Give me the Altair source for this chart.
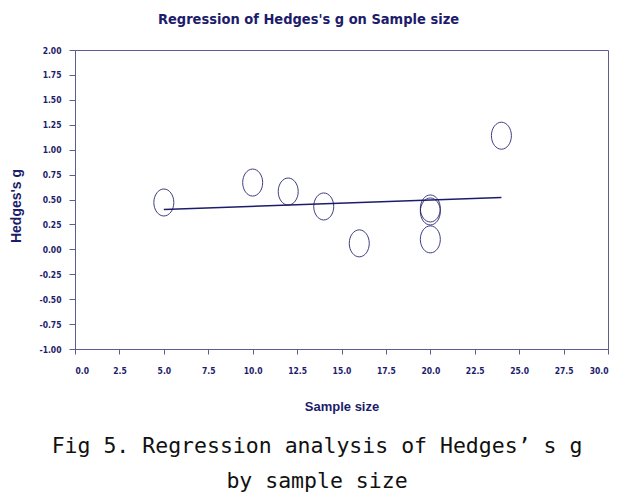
import altair as alt
import pandas as pd

# Data
sample_size = [5, 10, 12, 14, 16, 20, 20, 20, 24]
hedges_g = [0.47, 0.67, 0.58, 0.43, 0.06, 0.41, 0.38, 0.10, 1.14]
fit_x = [5, 24]
fit_y = [0.40, 0.52]
caption_lines = ["Fig 5. Regression analysis of Hedges\u2019 s g", "by sample size"]
caption_rows = [0, 1]

NAVY = "#1c1c6b"
FRAME = "#5c5c8e"
NARROW = "Liberation Sans Narrow, DejaVu Sans Condensed, Roboto, sans-serif"
ELLIPSE = "M -0.74 0 A 0.74 1 0 1 1 0.74 0 A 0.74 1 0 1 1 -0.74 0 Z"

pts = pd.DataFrame({"n": sample_size, "g": hedges_g})
fit = pd.DataFrame({"n": fit_x, "g": fit_y})
cap = pd.DataFrame({"text": caption_lines, "row": caption_rows})

W, H = 533, 299

xscale = alt.Scale(domain=[0, 30], nice=False, zero=False)
yscale = alt.Scale(domain=[-1, 2], nice=False, zero=False)

xaxis = alt.Axis(values=[i * 2.5 for i in range(13)], format=".1f", grid=False,
                 tickSize=5, labelPadding=12, titlePadding=26, title="Sample size")
yaxis = alt.Axis(values=[-1 + i * 0.25 for i in range(13)], grid=False,
                 labelExpr="replace(format(datum.value, '.2f'), '\u2212', '-')",
                 tickSize=6, labelPadding=8, title="Hedges's g",
                 titleX=-59, titleY=H / 2 + 6, titleAlign="center",
                 titleBaseline="middle", titleAngle=270, titleFontSize=14)

points = alt.Chart(pts).mark_point(
    shape=ELLIPSE, size=729, filled=False, stroke=NAVY, strokeWidth=1, opacity=0.85
).encode(
    x=alt.X("n:Q", scale=xscale, axis=xaxis),
    y=alt.Y("g:Q", scale=yscale, axis=yaxis),
)

line = alt.Chart(fit).mark_line(color=NAVY, strokeWidth=1.6).encode(
    x=alt.X("n:Q", scale=xscale, axis=xaxis),
    y=alt.Y("g:Q", scale=yscale, axis=yaxis),
)

cap_layers = []
for r, ypix in zip(caption_rows, [397, 432]):
    cap_layers.append(
        alt.Chart(cap).transform_filter(alt.datum.row == r).mark_text(
            font="DejaVu Sans Mono", fontSize=21.5, color="#111111", align="center",
            baseline="middle", clip=False
        ).encode(
            x=alt.value(242),
            y=alt.value(ypix),
            text="text:N",
        )
    )

chart = alt.layer(line, points, *cap_layers).properties(
    width=W, height=H,
    padding={"left": 67, "top": 42, "right": 8, "bottom": 143},
    autosize=alt.AutoSizeParams(type="none"),
    title=alt.TitleParams(
        "Regression of Hedges's g on Sample size",
        font=NARROW, fontSize=14.5, fontWeight="bold", color=NAVY,
        anchor="middle", dx=-33, offset=19,
    ),
).configure_view(
    stroke=FRAME, strokeWidth=1
).configure_axis(
    domainColor=FRAME, tickColor=FRAME,
    labelFont=NARROW, labelFontSize=8.5, labelFontWeight="bold",
    labelColor=NAVY,
    titleFont="Liberation Sans", titleFontSize=13, titleFontWeight="bold",
    titleColor=NAVY,
)

chart.save("out.html", embed_options={"renderer": "svg", "actions": False})
